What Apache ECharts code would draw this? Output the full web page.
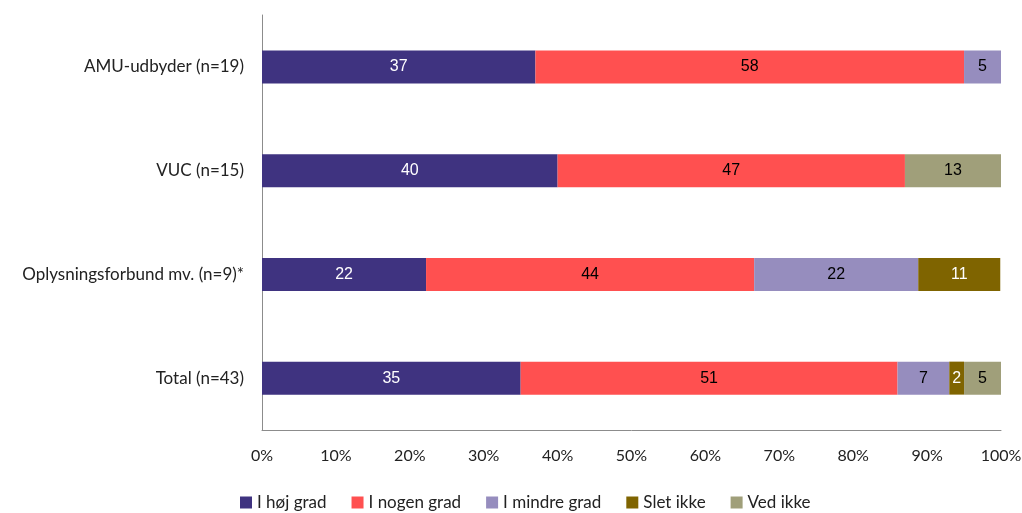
<!DOCTYPE html>
<html><head><meta charset="utf-8">
<script src="https://cdn.jsdelivr.net/npm/echarts@6/dist/echarts.min.js"></script>
<style>html,body{margin:0;padding:0;background:#fff}#c{width:1022px;height:513px}</style>
</head><body><div id="c"></div>
<script>
const categories = ['AMU-udbyder (n=19)', 'VUC (n=15)', 'Oplysningsforbund mv. (n=9)*', 'Total (n=43)'];
const seriesNames = ['I høj grad', 'I nogen grad', 'I mindre grad', 'Slet ikke', 'Ved ikke'];
const hojGrad    = [37, 40, 22.2, 35];
const nogenGrad  = [58, 47, 44.4, 51];
const mindreGrad = [5, 0, 22.2, 7];
const sletIkke   = [0, 0, 11.1, 2];
const vedIkke    = [0, 13, 0, 5];
const xTicks = [0, 10, 20, 30, 40, 50, 60, 70, 80, 90, 100];

const colors = ['#3F3380', '#FF5050', '#968DBE', '#7F6400', '#A09F7A'];
const labelColors = ['#ffffff', '#000000', '#000000', '#ffffff', '#000000'];
const values = [hojGrad, nogenGrad, mindreGrad, sletIkke, vedIkke];

const font = 'Lato, "Open Sans", sans-serif';
const chart = echarts.init(document.getElementById('c'));
chart.setOption({
  animation: false,
  grid: { left: 262, right: 21, top: 15, bottom: 83, outerBoundsMode: 'none', containLabel: false },
  legend: {
    top: 489, left: 235,
    itemWidth: 12, itemHeight: 12, itemGap: 25,
    icon: 'rect',
    textStyle: { fontFamily: font, fontSize: 17, color: '#222' },
    data: seriesNames
  },
  xAxis: {
    type: 'value', min: xTicks[0], max: xTicks[xTicks.length - 1], interval: 10,
    axisLine: { show: true, lineStyle: { color: '#8c8c8c', width: 1 } },
    axisTick: { show: false },
    splitLine: { show: false },
    axisLabel: { formatter: v => v + '%', fontFamily: font, fontSize: 16, color: '#222', margin: 18 }
  },
  yAxis: {
    type: 'category', inverse: true, data: categories,
    axisLine: { show: true, lineStyle: { color: '#8c8c8c', width: 1 } },
    axisTick: { show: false },
    axisLabel: { fontFamily: font, fontSize: 17, color: '#222', margin: 18 }
  },
  series: seriesNames.map((name, i) => ({
    name, type: 'bar', stack: 'all', barWidth: 33,
    itemStyle: { color: colors[i] },
    label: {
      show: true, position: 'inside',
      formatter: p => p.value > 0 ? Math.round(p.value) : '',
      color: labelColors[i], fontFamily: '"Liberation Sans", Arial, sans-serif', fontSize: 16
    },
    data: values[i]
  }))
});
</script></body></html>
